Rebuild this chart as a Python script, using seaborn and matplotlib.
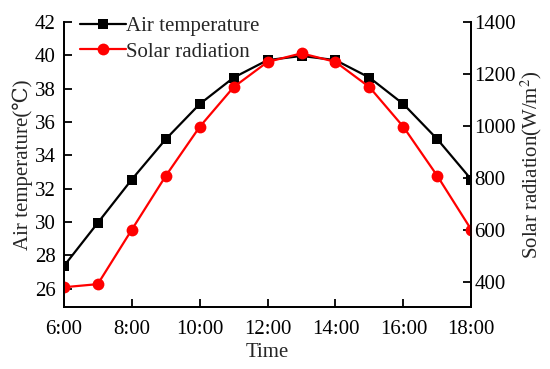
import numpy as np
import pandas as pd
import seaborn as sns
import matplotlib.pyplot as plt

# Data
hours = [6, 7, 8, 9, 10, 11, 12, 13, 14, 15, 16, 17, 18]
air_temp = [27.35, 29.95, 32.55, 34.97, 37.08, 38.67, 39.72, 39.97, 39.72, 38.67, 37.08, 34.97, 32.55]
solar_rad = [380, 392, 601, 808, 997, 1150, 1247, 1280, 1247, 1150, 997, 808, 601]
x_ticks = [6, 8, 10, 12, 14, 16, 18]
x_tick_labels = ["6:00", "8:00", "10:00", "12:00", "14:00", "16:00", "18:00"]

df = pd.DataFrame({"hour": hours, "air": air_temp, "solar": solar_rad})

sns.set_theme(style="ticks")
plt.rcParams["font.family"] = ["Liberation Serif", "DejaVu Serif"]
plt.rcParams["mathtext.fontset"] = "stix"

fig = plt.figure(figsize=(5.5, 3.69), dpi=100)
ax = fig.add_axes([0.116, 0.168, 0.741, 0.772])
ax2 = ax.twinx()

sns.lineplot(data=df, x="hour", y="air", ax=ax, color="black", marker="s",
             markersize=7, markeredgewidth=0, linewidth=1.6, label="Air temperature", legend=False)
sns.lineplot(data=df, x="hour", y="solar", ax=ax2, color="#ff0000", marker="o",
             markersize=8.5, markeredgewidth=0, linewidth=1.6, label="Solar radiation", legend=False)

ax.set_xlim(6, 18)
ax.set_ylim(24.9, 42)
ax.set_yticks(np.arange(26, 43, 2))
ax2.set_ylim(304, 1400)
ax2.set_yticks(np.arange(400, 1401, 200))
ax.set_xticks(x_ticks)
ax.set_xticklabels(x_tick_labels)

for a in (ax, ax2):
    a.spines["top"].set_visible(False)
    for s in a.spines.values():
        s.set_linewidth(1.3)
        s.set_color("black")
    a.tick_params(direction="in", length=6, width=1.3, labelsize=15, colors="black")
ax.tick_params(axis="x", pad=9)
ax.tick_params(axis="y", pad=6)
ax2.tick_params(axis="y", pad=2)

ax.set_xlabel("Time", fontsize=15, labelpad=3)
ax.set_ylabel("Air temperature(℃)", fontsize=15, labelpad=1)
ax2.set_ylabel("Solar radiation(W/m$^2$)", fontsize=15, labelpad=2)

h1, l1 = ax.get_legend_handles_labels()
h2, l2 = ax2.get_legend_handles_labels()
ax.legend(h1 + h2, l1 + l2, loc="upper left", frameon=False, fontsize=15,
          handlelength=2.2, handletextpad=0.0, borderaxespad=0.0,
          bbox_to_anchor=(0.02, 1.05), labelspacing=0.3)

fig.savefig("out.png", dpi=100)
